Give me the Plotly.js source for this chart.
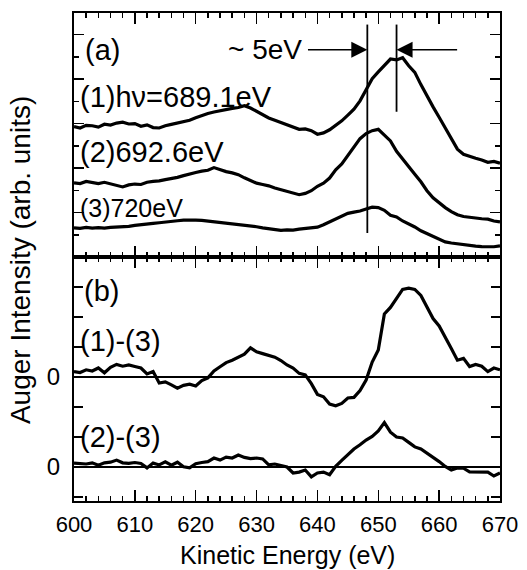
<!DOCTYPE html>
<html>
<head>
<meta charset="utf-8">
<script src="https://cdn.plot.ly/plotly-3.0.1.min.js"></script>
<style>html,body{margin:0;padding:0;background:#fff;}#chart{width:527px;height:570px;}</style>
</head>
<body>
<div id="chart"></div>
<script>
// Kinetic energy grid (eV)
const energy = [];
for (let e = 600; e <= 670; e++) energy.push(e);

// Panel (a): Auger spectra (arb. units, offset for display)
const spec1_689 = [5.86,5.80,5.92,5.90,5.84,5.97,5.93,6.02,6.06,5.98,6.00,5.88,5.94,5.82,5.80,5.90,5.96,6.02,6.08,6.15,6.26,6.36,6.45,6.52,6.58,6.62,6.68,6.72,6.80,6.70,6.55,6.42,6.25,6.15,6.05,5.95,5.84,5.74,5.76,5.68,5.52,5.58,5.72,5.90,6.12,6.38,6.65,7.02,7.50,8.02,8.32,8.62,8.90,8.86,8.96,8.60,8.30,7.75,7.22,6.75,6.28,5.80,5.32,4.85,4.62,4.52,4.44,4.36,4.26,4.30,4.22];
const spec2_692 = [3.33,3.30,3.40,3.36,3.30,3.36,3.28,3.22,3.15,3.24,3.28,3.26,3.36,3.40,3.42,3.48,3.52,3.58,3.66,3.74,3.80,3.86,3.90,4.02,3.92,3.84,3.78,3.70,3.56,3.42,3.32,3.26,3.20,3.10,3.02,2.94,2.88,2.80,2.86,2.98,3.18,3.32,3.55,3.92,4.18,4.55,4.96,5.32,5.55,5.68,5.74,5.48,5.22,4.75,4.40,4.02,3.72,3.38,2.98,2.66,2.42,2.22,2.04,1.90,1.82,1.78,1.76,1.72,1.70,1.62,1.58];
const spec3_720 = [1.31,1.29,1.33,1.30,1.32,1.30,1.33,1.34,1.35,1.38,1.42,1.44,1.48,1.51,1.54,1.58,1.60,1.63,1.66,1.67,1.66,1.65,1.62,1.60,1.57,1.53,1.50,1.46,1.42,1.40,1.36,1.31,1.27,1.22,1.20,1.22,1.21,1.25,1.29,1.30,1.34,1.45,1.58,1.72,1.85,1.96,2.02,2.07,2.16,2.24,2.22,2.10,1.88,1.80,1.62,1.50,1.35,1.18,1.05,0.94,0.80,0.68,0.63,0.59,0.55,0.51,0.49,0.47,0.45,0.46,0.50];

// Panel (b): difference spectra (offset; baselines at 3 and 0)
const diff13 = [3.18,3.15,3.24,3.20,3.30,3.14,3.32,3.42,3.36,3.40,3.35,3.30,3.10,3.18,2.80,2.84,2.74,2.63,2.72,2.76,2.70,2.88,2.97,3.20,3.34,3.48,3.56,3.66,3.76,3.97,3.84,3.78,3.72,3.66,3.55,3.40,3.30,3.12,3.07,2.78,2.42,2.34,2.10,2.04,2.12,2.30,2.32,2.55,2.90,3.50,3.90,5.10,5.32,5.60,5.92,5.96,5.92,5.72,5.34,4.95,4.70,4.35,3.95,3.56,3.62,3.35,3.42,3.36,3.18,3.30,3.24];
const diff23 = [0.13,0.12,0.10,0.14,0.06,0.14,0.16,0.23,0.14,0.12,0.15,0.12,-0.03,0.13,0.07,0.17,0.06,0.16,0.01,-0.03,0.11,0.15,0.18,0.30,0.23,0.33,0.30,0.40,0.32,0.28,0.30,0.27,0.07,0.10,0.06,0.00,-0.20,-0.17,-0.10,-0.33,-0.20,-0.17,-0.26,0.02,0.22,0.40,0.60,0.74,0.90,1.02,1.20,1.48,1.16,1.00,0.97,0.82,0.67,0.60,0.46,0.35,0.18,0.02,-0.10,-0.03,-0.04,-0.16,-0.17,-0.18,-0.17,-0.30,-0.20];
const baselines = [3, 0];

// Peak markers (eV)
const peakLow = 648.2, peakHigh = 653.0;

const xTickVals = [600,610,620,630,640,650,660,670];
const bTickVals = [-1,0,1,2,3,4,5,6,7];
const bTickText = ['', '0', '', '', '0', '', '', '', ''];

const FONT = '"Liberation Sans", Arial, Helvetica, sans-serif';
const line = {color:'#000', width:3.2};

const traces = [
  {x: energy, y: spec1_689, xaxis:'x2', yaxis:'y2', mode:'lines', line: line},
  {x: energy, y: spec2_692, xaxis:'x2', yaxis:'y2', mode:'lines', line: line},
  {x: energy, y: spec3_720, xaxis:'x2', yaxis:'y2', mode:'lines', line: line},
  {x: energy, y: diff13, xaxis:'x', yaxis:'y', mode:'lines', line: line},
  {x: energy, y: diff23, xaxis:'x', yaxis:'y', mode:'lines', line: line}
];

const xCommon = {
  range:[600,670], tickvals: xTickVals, ticks:'inside', ticklen:11, tickwidth:1.5, tickcolor:'#000',
  minor:{dtick:2, tick0:600, ticks:'inside', ticklen:5, tickwidth:1.5, tickcolor:'#000'},
  showline:true, linewidth:2, linecolor:'#000', mirror:'allticks', showgrid:false, zeroline:false
};

const layout = {
  width:527, height:570, showlegend:false,
  paper_bgcolor:'#fff', plot_bgcolor:'#fff',
  margin:{l:74, r:27, t:13, b:69},
  font:{family: FONT, color:'#000'},
  xaxis: Object.assign({}, xCommon, {anchor:'y', tickfont:{size:22, family:FONT}, ticklabelstandoff:3}),
  xaxis2: Object.assign({}, xCommon, {anchor:'y2', matches:'x', showticklabels:false}),
  yaxis: {domain:[0,0.5], range:[-1.133,7], tickmode:'array', tickvals:bTickVals, ticktext:bTickText,
    ticks:'inside', ticklen:9, tickwidth:1.5, tickcolor:'#000', tickfont:{size:24, family:FONT}, ticklabelstandoff:7,
    showline:true, linewidth:2, linecolor:'#000', mirror:'allticks', showgrid:false, zeroline:false},
  yaxis2: {domain:[0.5,1], range:[0,10.97], tickmode:'linear', tick0:0, dtick:2,
    ticks:'inside', ticklen:10, tickwidth:1.5, tickcolor:'#000', showticklabels:false,
    minor:{dtick:1, ticks:'inside', ticklen:5, tickwidth:1.5, tickcolor:'#000'},
    showline:true, linewidth:2, linecolor:'#000', mirror:'allticks', showgrid:false, zeroline:false},
  shapes: [
    {type:'line', xref:'x', yref:'y', x0:600, x1:670, y0:baselines[0], y1:baselines[0], line:{color:'#000', width:1.8}},
    {type:'line', xref:'x', yref:'y', x0:600, x1:670, y0:baselines[1], y1:baselines[1], line:{color:'#000', width:1.8}},
    {type:'line', xref:'x2', yref:'y2', x0:peakLow, x1:peakLow, y0:1.08, y1:10.45, line:{color:'#000', width:1.8}},
    {type:'line', xref:'x2', yref:'y2', x0:peakHigh, x1:peakHigh, y0:6.53, y1:10.45, line:{color:'#000', width:1.8}}
  ],
  annotations: [
    {xref:'x2', yref:'y2', x:peakLow, y:9.32, ax:638.2, ay:9.32, axref:'x2', ayref:'y2', text:'', showarrow:true, arrowhead:2, arrowsize:2, arrowwidth:1.6, arrowcolor:'#000'},
    {xref:'x2', yref:'y2', x:peakHigh, y:9.32, ax:663.2, ay:9.32, axref:'x2', ayref:'y2', text:'', showarrow:true, arrowhead:2, arrowsize:2, arrowwidth:1.6, arrowcolor:'#000'},
    {xref:'x2', yref:'y2', x:637.8, y:9.32, xanchor:'right', yanchor:'middle', text:'~ 5eV', showarrow:false, font:{size:28}},
    {xref:'x2', yref:'y2', x:601.5, y:9.32, xanchor:'left', yanchor:'middle', text:'(a)', showarrow:false, font:{size:29}},
    {xref:'x2', yref:'y2', x:600.7, y:7.2, xanchor:'left', yanchor:'middle', text:'(1)h\u03bd=689.1eV', showarrow:false, font:{size:29}},
    {xref:'x2', yref:'y2', x:600.7, y:4.7, xanchor:'left', yanchor:'middle', text:'(2)692.6eV', showarrow:false, font:{size:29}},
    {xref:'x2', yref:'y2', x:600.7, y:2.2, xanchor:'left', yanchor:'middle', text:'(3)720eV', showarrow:false, font:{size:25}},
    {xref:'x', yref:'y', x:601.3, y:5.87, xanchor:'left', yanchor:'middle', text:'(b)', showarrow:false, font:{size:29}},
    {xref:'x', yref:'y', x:600.7, y:4.2, xanchor:'left', yanchor:'middle', text:'(1)-(3)', showarrow:false, font:{size:29}},
    {xref:'x', yref:'y', x:600.7, y:1.0, xanchor:'left', yanchor:'middle', text:'(2)-(3)', showarrow:false, font:{size:29}},
    {xref:'paper', yref:'paper', x:0.5, y:-0.11, xanchor:'center', yanchor:'middle', text:'Kinetic Energy (eV)', showarrow:false, font:{size:25}},
    {xref:'paper', yref:'paper', x:-0.124, y:0.494, xanchor:'center', yanchor:'middle', textangle:-90, text:'Auger Intensity (arb. units)', showarrow:false, font:{size:28}}
  ]
};

Plotly.newPlot('chart', traces, layout, {staticPlot:true, displayModeBar:false});
</script>
</body>
</html>
